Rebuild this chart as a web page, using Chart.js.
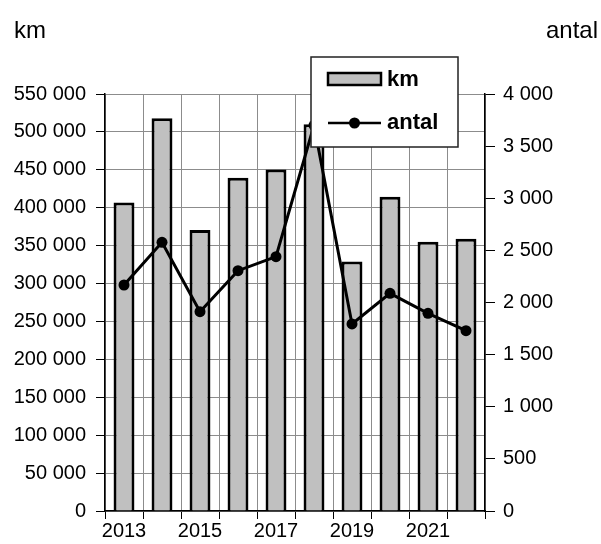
<!DOCTYPE html>
<html>
<head>
<meta charset="utf-8">
<script src="https://cdn.jsdelivr.net/npm/chart.js@4"></script>
<style>
  body { margin: 0; background: #fff; }
  #wrap { position: relative; width: 601px; height: 544px; }
  .ttl { position: absolute; top: 16px; font: 24px "Liberation Sans", Arial, sans-serif; color: #000; }
</style>
</head>
<body>
<div id="wrap">
  <canvas id="myChart" width="601" height="544"></canvas>
  <div class="ttl" style="left:14px">km</div>
  <div class="ttl" style="right:3px">antal</div>
</div>
<script>
// years on the x axis
const years = ['2013', '2014', '2015', '2016', '2017', '2018', '2019', '2020', '2021', '2022'];
// km per year (bars, left axis)
const km = [407000, 518000, 370500, 439500, 450500, 510000, 329000, 414500, 355000, 359000];
// antal per year (line, right axis)
const antal = [2168, 2577, 1912, 2305, 2440, 3700, 1794, 2088, 1896, 1730];

const fmt = v => String(v).replace(/\B(?=(\d{3})+(?!\d))/g, ' ');
const tickFont = { family: 'Liberation Sans', size: 20 };

// legend box drawn on top of the plot, like the original
const boxLegend = {
  id: 'boxLegend',
  afterDraw(chart) {
    const ctx = chart.ctx;
    ctx.save();
    ctx.fillStyle = '#fff';
    ctx.strokeStyle = '#222';
    ctx.lineWidth = 1.5;
    ctx.fillRect(311, 57, 147, 90);
    ctx.strokeRect(311, 57, 147, 90);

    const ds = chart.data.datasets;
    // bar swatch
    ctx.strokeStyle = '#000';
    ctx.fillStyle = ds[1].backgroundColor;
    ctx.lineWidth = 2.5;
    ctx.fillRect(328, 73, 53, 12);
    ctx.strokeRect(328, 73, 53, 12);
    // line swatch
    ctx.beginPath();
    ctx.moveTo(328, 123);
    ctx.lineTo(381, 123);
    ctx.stroke();
    ctx.beginPath();
    ctx.fillStyle = '#000';
    ctx.arc(354.5, 123, 5.5, 0, Math.PI * 2);
    ctx.fill();

    ctx.font = 'bold 22px "Liberation Sans"';
    ctx.textBaseline = 'middle';
    ctx.fillText(ds[1].label, 387, 80);
    ctx.fillText(ds[0].label, 387, 123);
    ctx.restore();
  }
};

const config = {
  data: {
    labels: years,
    datasets: [{
      type: 'line',
      label: 'antal',
      data: antal,
      yAxisID: 'y1',
      borderColor: '#000',
      backgroundColor: '#000',
      borderWidth: 3,
      pointRadius: 5.5,
      pointBorderWidth: 0,
      pointBackgroundColor: '#000',
      tension: 0,
      order: 0
    }, {
      type: 'bar',
      label: 'km',
      data: km,
      yAxisID: 'y',
      backgroundColor: '#c0c0c0',
      borderColor: '#000',
      borderWidth: 3,
      barPercentage: 0.55,
      categoryPercentage: 1,
      order: 1
    }]
  },
  options: {
    responsive: false,
    animation: false,
    layout: { padding: { top: 94, right: 0, left: 0, bottom: 0 } },
    plugins: {
      legend: { display: false },
      tooltip: { enabled: false }
    },
    scales: {
      x: {
        offset: true,
        grid: { offset: true, color: '#8c8c8c', tickColor: '#000', tickLength: 8, lineWidth: 1 },
        border: { color: '#000', width: 1.5 },
        ticks: {
          font: tickFont, color: '#000', maxRotation: 0, autoSkip: false, padding: 0,
          callback: (v, i) => (i % 2 === 0 ? years[i] : '')
        },
        afterFit: s => { s.height = 33; }
      },
      y: {
        position: 'left',
        min: 0, max: 550000,
        grid: { color: '#8c8c8c', tickColor: '#000', tickLength: 9 },
        border: { color: '#000', width: 1.5 },
        ticks: { stepSize: 50000, font: tickFont, color: '#000', padding: 10, callback: v => fmt(v) },
        afterFit: s => { s.width = 105; }
      },
      y1: {
        position: 'right',
        min: 0, max: 4000,
        grid: { drawOnChartArea: false, tickColor: '#000', tickLength: 10 },
        border: { color: '#000', width: 1.5 },
        ticks: { stepSize: 500, font: tickFont, color: '#000', padding: 8, callback: v => fmt(v) },
        afterFit: s => { s.width = 116; }
      }
    }
  },
  plugins: [boxLegend]
};

var myChart = new Chart(document.getElementById('myChart'), config);
</script>
</body>
</html>
